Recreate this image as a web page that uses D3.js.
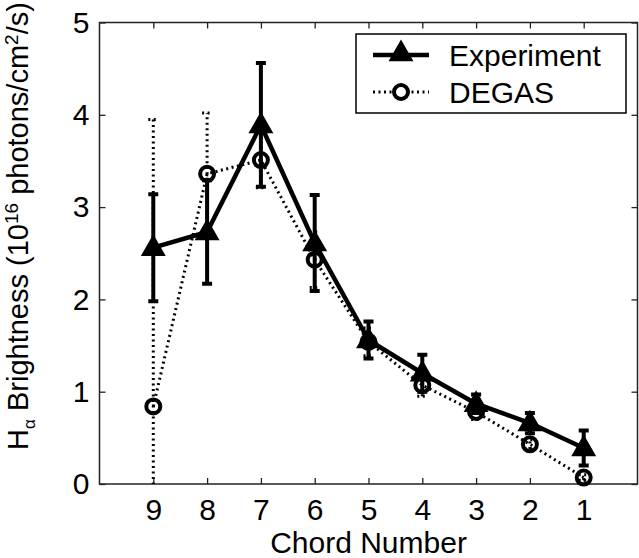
<!DOCTYPE html>
<html>
<head>
<meta charset="utf-8">
<script src="https://cdn.jsdelivr.net/npm/d3@7"></script>
<style>
  html, body { margin: 0; padding: 0; background: #fff; }
  svg { display: block; }
  text { font-family: "Liberation Sans", Arial, Helvetica, sans-serif; fill: #000; }
</style>
</head>
<body>
<svg id="chart" width="639" height="558"></svg>
<script>
// Chord numbers (x axis runs from 10 down to 0)
const chords = [9, 8, 7, 6, 5, 4, 3, 2, 1];
// Measured H-alpha brightness and its uncertainty (10^16 photons/cm^2/s)
const experiment    = [2.56, 2.73, 3.89, 2.61, 1.56, 1.20, 0.87, 0.66, 0.39];
const experimentErr = [0.58, 0.56, 0.67, 0.52, 0.20, 0.20, 0.10, 0.11, 0.19];
// DEGAS simulation and its uncertainty
const degas    = [0.84, 3.36, 3.51, 2.43, 1.54, 1.07, 0.78, 0.43, 0.07];
const degasErr = [3.11, 0.66, 0.30, 0.30, 0.15, 0.12, 0.08, 0.05, 0.03];
const xTicks = [1, 2, 3, 4, 5, 6, 7, 8, 9];
const yTicks = [0, 1, 2, 3, 4, 5];

const svg = d3.select("#chart");
const L = 99.5, R = 637.5, T = 22.5, B = 484;
const x = d3.scaleLinear().domain([10, 0]).range([L, R]);
const y = d3.scaleLinear().domain([0, 5]).range([B, T]);

// Axes box with inward ticks
const axisColor = "#222";
function styleAxis(g) {
  g.select(".domain").remove();
  g.selectAll(".tick line").attr("stroke", axisColor).attr("stroke-width", 1.3);
  g.selectAll(".tick text").attr("font-size", 30).attr("fill", "#000")
    .attr("font-family", "'Liberation Sans', Arial, sans-serif");
}
svg.append("g").attr("transform", `translate(0,${B})`)
  .call(d3.axisBottom(x).tickValues(xTicks).tickFormat(d3.format("d"))
    .tickSizeInner(-6).tickSizeOuter(0).tickPadding(15))
  .call(styleAxis);
svg.append("g").attr("transform", `translate(0,${T})`)
  .call(d3.axisTop(x).tickValues(xTicks).tickFormat("")
    .tickSizeInner(-6).tickSizeOuter(0))
  .call(styleAxis);
svg.append("g").attr("transform", `translate(${L},0)`)
  .call(d3.axisLeft(y).tickValues(yTicks).tickFormat(d3.format("d"))
    .tickSizeInner(-6).tickSizeOuter(0).tickPadding(10))
  .call(styleAxis);
svg.append("g").attr("transform", `translate(${R},0)`)
  .call(d3.axisRight(y).tickValues(yTicks).tickFormat("")
    .tickSizeInner(-6).tickSizeOuter(0))
  .call(styleAxis);
svg.append("rect").attr("x", L).attr("y", T).attr("width", R - L).attr("height", B - T)
  .attr("fill", "none").attr("stroke", axisColor).attr("stroke-width", 1.5);

// Clip for error bars running past the axes
svg.append("clipPath").attr("id", "plotClip")
  .append("rect").attr("x", L).attr("y", T).attr("width", R - L).attr("height", B - T);

const expData = chords.map((c, i) => ({ c, v: experiment[i], e: experimentErr[i] }));
const degData = chords.map((c, i) => ({ c, v: degas[i], e: degasErr[i] }));
const line = d3.line().x(d => x(d.c)).y(d => y(d.v));

function errorBars(g, data, width, dash) {
  const capW = 5;
  const bars = g.append("g").attr("clip-path", "url(#plotClip)")
    .attr("stroke", "#000").attr("stroke-width", width).attr("fill", "none")
    .attr("stroke-dasharray", dash);
  bars.selectAll("path").data(data).join("path")
    .attr("d", d => {
      const cx = x(d.c), y0 = y(d.v - d.e), y1 = y(d.v + d.e);
      return `M${cx},${y0}V${y1}M${cx - capW},${y1}H${cx + capW}M${cx - capW},${y0}H${cx + capW}`;
    });
}

const dots = "2,3.5";

// Experiment series: thick solid line with filled triangles
const gExp = svg.append("g");
errorBars(gExp, expData, 4, null);
gExp.append("path").datum(expData).attr("d", line)
  .attr("fill", "none").attr("stroke", "#000").attr("stroke-width", 4.5)
  .attr("stroke-linejoin", "round");
const tri = d3.symbol().type(d3.symbolTriangle).size(200);
gExp.selectAll(".tri").data(expData).join("path").attr("class", "tri")
  .attr("transform", d => `translate(${x(d.c)},${y(d.v) + 1})`)
  .attr("d", tri).attr("fill", "#000").attr("stroke", "#000").attr("stroke-width", 2);

// DEGAS series: dotted line with open circles
const gDeg = svg.append("g");
errorBars(gDeg, degData, 3, dots);
gDeg.append("path").datum(degData).attr("d", line)
  .attr("fill", "none").attr("stroke", "#000").attr("stroke-width", 3)
  .attr("stroke-dasharray", dots);
gDeg.selectAll(".circ").data(degData).join("circle").attr("class", "circ")
  .attr("cx", d => x(d.c)).attr("cy", d => y(d.v)).attr("r", 7)
  .attr("fill", "none").attr("stroke", "#000").attr("stroke-width", 4);

// Legend
const lg = svg.append("g");
lg.append("rect").attr("x", 356).attr("y", 34).attr("width", 270).attr("height", 79)
  .attr("fill", "#fff").attr("stroke", "#000").attr("stroke-width", 1.5);
lg.append("line").attr("x1", 373).attr("x2", 429).attr("y1", 55).attr("y2", 55)
  .attr("stroke", "#000").attr("stroke-width", 4.5);
lg.append("path").attr("transform", "translate(401,54)").attr("d", tri)
  .attr("fill", "#000").attr("stroke", "#000").attr("stroke-width", 2);
lg.append("line").attr("x1", 373).attr("x2", 429).attr("y1", 92).attr("y2", 92)
  .attr("stroke", "#000").attr("stroke-width", 3).attr("stroke-dasharray", dots);
lg.append("circle").attr("cx", 401).attr("cy", 92).attr("r", 7)
  .attr("fill", "#fff").attr("stroke", "#000").attr("stroke-width", 4);
lg.append("text").attr("x", 449).attr("y", 55).attr("dy", "0.35em")
  .attr("font-size", 30).text("Experiment");
lg.append("text").attr("x", 449).attr("y", 92).attr("dy", "0.35em")
  .attr("font-size", 30).text("DEGAS");

// Axis titles
svg.append("text").attr("x", (L + R) / 2).attr("y", 553).attr("text-anchor", "middle")
  .attr("font-size", 30).text("Chord Number");

const yl = svg.append("text").attr("transform", "translate(28,226) rotate(-90)")
  .attr("text-anchor", "middle").attr("font-size", 29);
yl.append("tspan").text("H");
yl.append("tspan").attr("font-size", 17).attr("dy", 7).text("\u03b1");
yl.append("tspan").attr("dy", -7).text(" Brightness (10");
yl.append("tspan").attr("font-size", 19).attr("dy", -10).text("16");
yl.append("tspan").attr("dy", 10).text(" photons/cm");
yl.append("tspan").attr("font-size", 19).attr("dy", -10).text("2");
yl.append("tspan").attr("dy", 10).text("/s)");
</script>
</body>
</html>
